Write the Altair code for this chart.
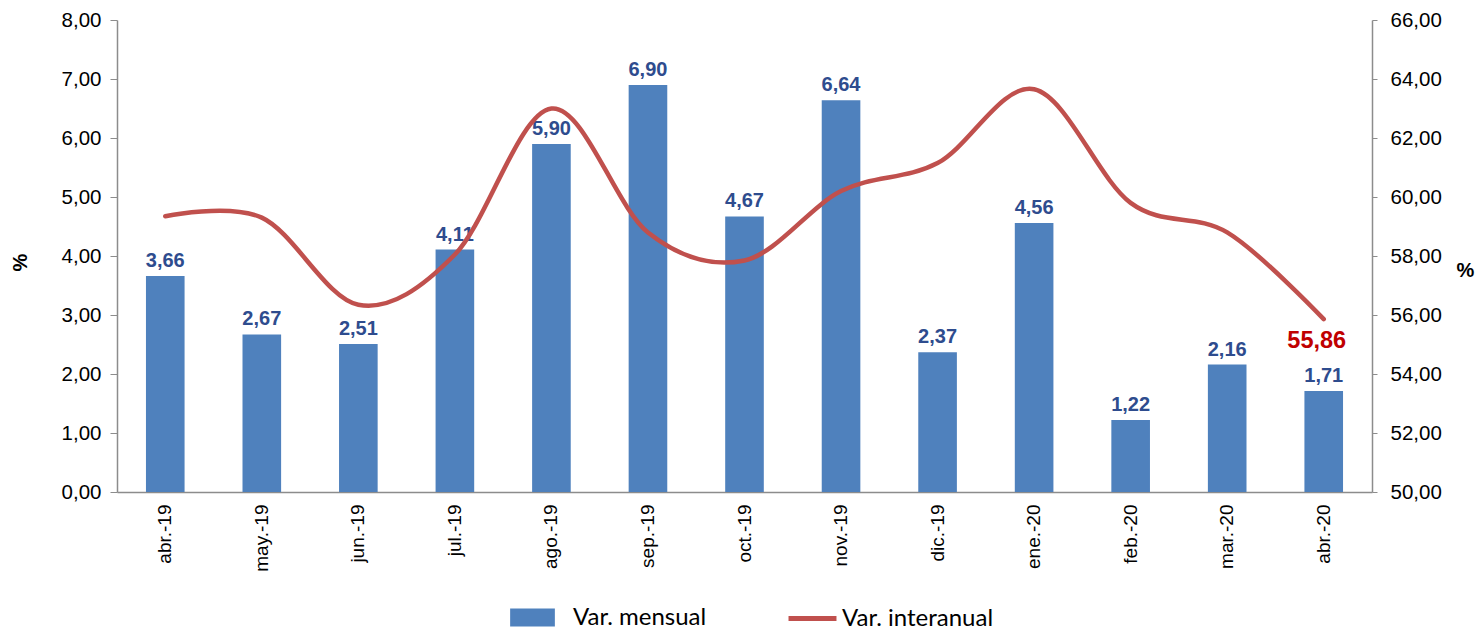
import altair as alt
import pandas as pd

meses = ["abr.-19", "may.-19", "jun.-19", "jul.-19", "ago.-19", "sep.-19", "oct.-19",
         "nov.-19", "dic.-19", "ene.-20", "feb.-20", "mar.-20", "abr.-20"]
var_mensual = [3.66, 2.67, 2.51, 4.11, 5.90, 6.90, 4.67, 6.64, 2.37, 4.56, 1.22, 2.16, 1.71]
var_interanual = [59.35, 59.3, 56.35, 58.05, 63.0, 58.8, 57.85, 60.2, 61.15, 63.65, 59.8, 58.8, 55.86]

df = pd.DataFrame({
    "mes": meses,
    "mensual": var_mensual,
    "interanual": var_interanual,
    "lab_m": [f"{v:.2f}".replace(".", ",") for v in var_mensual],
    "lab_i": [f"{v:.2f}".replace(".", ",") for v in var_interanual],
    "s1": ["Var. mensual"] * len(meses),
    "s2": ["Var. interanual"] * len(meses),
})

FONT = "Liberation Sans"
comma_expr = "replace(format(datum.value, '.2f'), '.', ',')"

x = alt.X("mes:N", sort=meses, title=None,
          scale=alt.Scale(paddingInner=0.6, paddingOuter=0.3),
          axis=alt.Axis(labelAngle=-90, labelFontSize=19, labelFont=FONT, labelColor="black",
                        ticks=False, labelPadding=12, domainColor="#8c8c8c", domainWidth=1.5))

y_left = alt.Y("mensual:Q", scale=alt.Scale(domain=[0, 8]),
               axis=alt.Axis(values=[0, 1, 2, 3, 4, 5, 6, 7, 8], labelExpr=comma_expr,
                             grid=False, labelFontSize=20.5, labelFont=FONT, labelColor="black",
                             tickSize=7, tickColor="#8c8c8c", domainColor="#8c8c8c",
                             domainWidth=1.5, labelPadding=9,
                             title="%", titleFontSize=20, titleFont=FONT, titleFontWeight="bold",
                             titleAngle=-90, titleX=-97, titleY=242, titleAlign="center",
                             titleBaseline="middle"))

y_right = alt.Y("interanual:Q", scale=alt.Scale(domain=[50, 66]),
                axis=alt.Axis(orient="right", values=[50, 52, 54, 56, 58, 60, 62, 64, 66],
                              labelExpr=comma_expr, grid=False, labelFontSize=20.5, labelFont=FONT,
                              labelColor="black", tickSize=5, tickColor="#8c8c8c",
                              domainColor="#8c8c8c", domainWidth=1.5, labelPadding=13,
                              title="%", titleFontSize=20, titleFont=FONT, titleFontWeight="bold",
                              titleAngle=0, titleX=93, titleY=250, titleAlign="center",
                              titleBaseline="middle"))

bars = alt.Chart(df).mark_bar(color="#4F81BD").encode(
    x=x, y=y_left,
    color=alt.Color("s1:N", scale=alt.Scale(domain=["Var. mensual"], range=["#4F81BD"]),
                    legend=alt.Legend(title=None, orient="none", legendX=393, legendY=575,
                                      symbolType="M-1,-0.4H1V0.4H-1Z", symbolSize=2000,
                                      symbolStrokeWidth=0, symbolOpacity=1,
                                      labelFont="Lato", labelFontSize=24, labelColor="black",
                                      labelOffset=18, padding=0)),
)

bar_labels = alt.Chart(df).mark_text(baseline="bottom", dy=-5, fontSize=20, font=FONT,
                                     fontWeight="bold", color="#2E4C8E").encode(
    x=x, y=y_left, text="lab_m:N")

left = alt.layer(bars, bar_labels)

line = alt.Chart(df).mark_line(interpolate="cardinal", strokeWidth=4.5, strokeCap="round").encode(
    x=x, y=y_right,
    stroke=alt.Stroke("s2:N", scale=alt.Scale(domain=["Var. interanual"], range=["#C0504D"]),
                      legend=alt.Legend(title=None, orient="none", legendX=669, legendY=572,
                                        symbolType="stroke", symbolSize=2300,
                                        symbolStrokeWidth=5,
                                        labelFont="Lato", labelFontSize=24, labelColor="black",
                                        labelOffset=3, padding=0)),
)

last_label = alt.Chart(df).transform_filter(alt.datum.mes == "abr.-20").mark_text(
    baseline="middle", dy=22, dx=-7, fontSize=23.5, font=FONT, fontWeight="bold", color="#C00000"
).encode(x=x, y=y_right, text="lab_i:N")

right = alt.layer(line, last_label)

chart = alt.layer(left, right).resolve_scale(y="independent").properties(
    width=1255, height=472,
    padding={"left": 117, "top": 20, "right": 108, "bottom": 138},
    autosize=alt.AutoSizeParams(type="none"),
    background="white",
).configure_view(stroke=None)

chart.save("out.html", embed_options={"renderer": "svg", "actions": False})
